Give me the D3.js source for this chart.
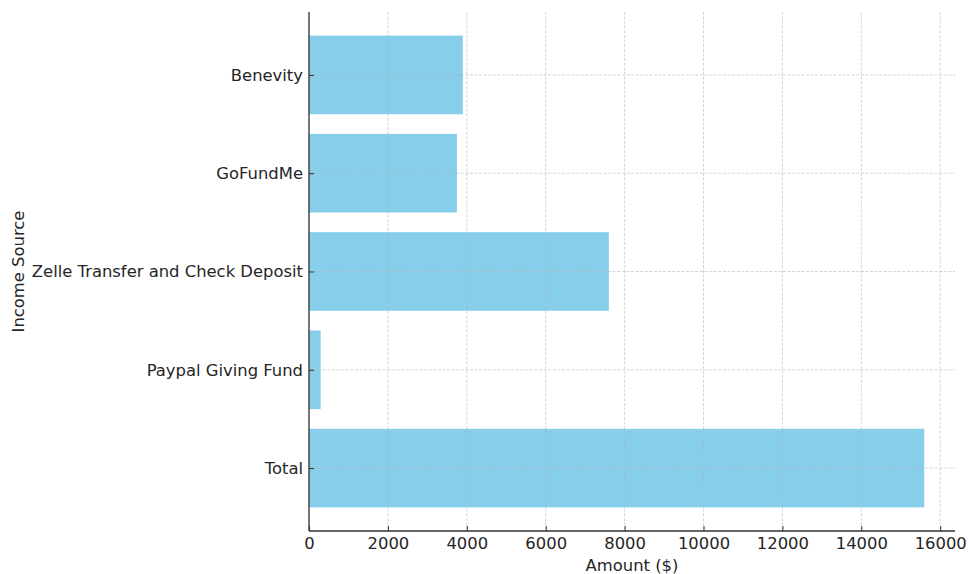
<!DOCTYPE html>
<html>
<head>
<meta charset="utf-8">
<script src="https://cdn.jsdelivr.net/npm/d3@7"></script>
<style>
  body { margin: 0; background: #fff; }
  svg { display: block; font-family: "DejaVu Sans", sans-serif; }
</style>
</head>
<body>
<div id="vis"></div>
<script>
// data (top to bottom)
const sources = ["Benevity", "GoFundMe", "Zelle Transfer and Check Deposit", "Paypal Giving Fund", "Total"];
const amounts = [3900, 3750, 7600, 295, 15595];
const xTicks = [0, 2000, 4000, 6000, 8000, 10000, 12000, 14000, 16000];

const outerWidth = 969;
const outerHeight = 574;
const margin = { top: 12, right: 14, bottom: 43, left: 309 };
const width = outerWidth - margin.left - margin.right;
const height = outerHeight - margin.top - margin.bottom;
const FONT = "16.4px";

const root = d3.select("#vis")
  .append("svg")
  .attr("width", outerWidth)
  .attr("height", outerHeight);

const svg = root.append("g")
  .attr("transform", `translate(${margin.left},${margin.top})`);

// x: matplotlib-like 5% margin on the right, sticky at zero
const xMax = d3.max(amounts) * 1.05;
const x = d3.scaleLinear().domain([0, xMax]).range([0, width]);

// y: categories at integer positions, bars 0.8 tall, 5% padding
const n = sources.length;
const lo = -0.4 - 0.05 * (n - 1 + 0.8);
const hi = n - 1 + 0.4 + 0.05 * (n - 1 + 0.8);
const yPos = d3.scaleLinear().domain([lo, hi]).range([0, height]);
const bandH = yPos(0.8) - yPos(0);

// bars
svg.append("g")
  .selectAll("rect")
  .data(sources)
  .join("rect")
  .attr("x", x(0))
  .attr("y", (d, i) => yPos(i - 0.4))
  .attr("width", (d, i) => x(amounts[i]) - x(0))
  .attr("height", bandH)
  .attr("fill", "#87ceeb");

// grid (drawn over bars)
const grid = svg.append("g")
  .attr("stroke", "#b0b0b0")
  .attr("stroke-opacity", 0.6)
  .attr("stroke-width", 0.9)
  .attr("stroke-dasharray", "3,1.6");

grid.selectAll("line.vx")
  .data(xTicks)
  .join("line")
  .attr("class", "vx")
  .attr("x1", d => x(d)).attr("x2", d => x(d))
  .attr("y1", 0).attr("y2", height);

grid.selectAll("line.hy")
  .data(sources)
  .join("line")
  .attr("class", "hy")
  .attr("x1", 0).attr("x2", width)
  .attr("y1", (d, i) => yPos(i)).attr("y2", (d, i) => yPos(i));

// axes (ticks point inward)
const xAxis = svg.append("g")
  .attr("transform", `translate(0,${height})`)
  .call(d3.axisBottom(x).tickValues(xTicks).tickFormat(d3.format("d")).tickSize(-5).tickPadding(6));

const yAxis = svg.append("g")
  .call(d3.axisLeft(yPos).tickValues(d3.range(n)).tickFormat(i => sources[i]).tickSize(-5).tickPadding(6));

[xAxis, yAxis].forEach(a => {
  a.select(".domain").attr("stroke", "#333").attr("stroke-width", 1.3);
  a.selectAll(".tick line").attr("stroke", "#333").attr("stroke-width", 1);
  a.selectAll(".tick text")
    .attr("fill", "#262626")
    .style("font-size", FONT)
    .style("font-family", "'DejaVu Sans', sans-serif");
});
yAxis.select(".domain").attr("d", `M0,0V${height}`);
xAxis.select(".domain").attr("d", `M0,0H${width}`);

// axis labels
root.append("text")
  .attr("x", margin.left + width / 2)
  .attr("y", 571)
  .attr("text-anchor", "middle")
  .attr("fill", "#262626")
  .style("font-size", FONT)
  .text("Amount ($)");

root.append("text")
  .attr("transform", `translate(24,${margin.top + height / 2}) rotate(-90)`)
  .attr("text-anchor", "middle")
  .attr("fill", "#262626")
  .style("font-size", FONT)
  .text("Income Source");
</script>
</body>
</html>
